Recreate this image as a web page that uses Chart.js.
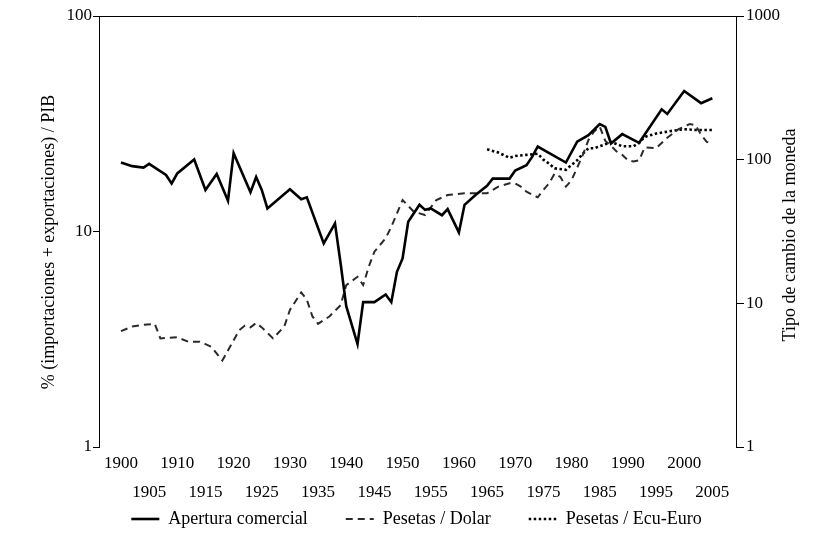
<!DOCTYPE html>
<html>
<head>
<meta charset="utf-8">
<script src="https://cdn.jsdelivr.net/npm/chart.js@4.4.1/dist/chart.umd.min.js"></script>
<style>
  html, body { margin: 0; padding: 0; background: #fff; }
</style>
</head>
<body>
<canvas id="chart" width="833" height="556"></canvas>
<script>
// Apertura comercial, % (importaciones + exportaciones) / PIB  (left axis)
const aperturaYears = [1900, 1902, 1904, 1905, 1908, 1909, 1910, 1913, 1915, 1917, 1919, 1920,
  1923, 1924, 1925, 1926, 1930, 1932, 1933, 1936, 1938, 1939, 1940, 1942, 1943, 1945, 1947,
  1948, 1949, 1950, 1951, 1953, 1954, 1955, 1957, 1958, 1960, 1961, 1963, 1965, 1966, 1969,
  1970, 1972, 1973, 1974, 1979, 1981, 1983, 1985, 1986, 1987, 1989, 1992, 1996, 1997, 2000,
  2003, 2005];
const aperturaValues = [20.9, 20.1, 19.8, 20.6, 18.3, 16.7, 18.6, 21.6, 15.6, 18.5, 13.9, 23.1,
  15.2, 17.9, 15.6, 12.8, 15.7, 14.1, 14.4, 8.8, 10.9, 7.1, 4.5, 3.0, 4.7, 4.7, 5.1,
  4.7, 6.5, 7.5, 11.1, 13.3, 12.6, 12.8, 11.9, 12.7, 9.9, 13.3, 14.8, 16.3, 17.6, 17.6,
  19.2, 20.3, 22.2, 24.8, 20.9, 26.1, 28.0, 31.5, 30.6, 25.6, 28.3, 25.8, 36.9, 35.1, 44.9,
  39.4, 41.5];

// Pesetas / Dolar (right axis)
const dolarYears = [1900, 1902, 1904, 1906, 1907, 1910, 1912, 1914, 1915, 1916, 1918, 1919,
  1921, 1922, 1923, 1924, 1925, 1927, 1929, 1930, 1932, 1933, 1934, 1935, 1937, 1939, 1940,
  1942, 1943, 1944, 1945, 1947, 1948, 1949, 1950, 1952, 1954, 1956, 1958, 1961, 1965, 1967,
  1969, 1970, 1971, 1972, 1974, 1975, 1976, 1977, 1978, 1979, 1980, 1981, 1982, 1983, 1984,
  1985, 1986, 1987, 1988, 1989, 1990, 1991, 1992, 1993, 1995, 1997, 1999, 2001, 2002, 2003,
  2004, 2005];
const dolarValues = [6.4, 6.9, 7.1, 7.2, 5.7, 5.8, 5.4, 5.4, 5.2, 5.0, 4.0, 4.7,
  6.5, 7.0, 6.8, 7.3, 6.8, 5.7, 6.9, 9.0, 11.9, 10.6, 8.1, 7.2, 8.1, 9.7, 13.4,
  15.3, 13.4, 18.0, 22.9, 28.4, 34.1, 42.3, 52.4, 43.4, 41.2, 52.4, 56.7, 58.3, 58.3, 64.9,
  68.4, 68.4, 64.9, 59.8, 54.7, 61.5, 68.4, 80, 76, 65, 72, 88, 108, 137, 157,
  170, 135, 125, 114, 108, 99, 97, 99, 122, 120, 142, 163, 177, 174, 149,
  133, 130];

// Pesetas / Ecu-Euro (right axis)
const ecuYears = [1965, 1967, 1969, 1970, 1972, 1974, 1975, 1976, 1977, 1979, 1980, 1981, 1982,
  1983, 1984, 1986, 1987, 1989, 1991, 1992, 1993, 1995, 1998, 2000, 2002, 2005];
const ecuValues = [118, 112, 103, 106, 108, 110, 100, 94, 87, 85, 92, 99, 110,
  120, 120, 128, 133, 124, 124, 131, 144, 152, 159, 163, 161, 161];

const yearTicks = [1900, 1905, 1910, 1915, 1920, 1925, 1930, 1935, 1940, 1945, 1950, 1955,
  1960, 1965, 1970, 1975, 1980, 1985, 1990, 1995, 2000, 2005];
const leftTicks = [1, 10, 100];
const rightTicks = [1, 10, 100, 1000];
const leftTitle = '% (importaciones + exportaciones) / PIB';
const rightTitle = 'Tipo de cambio de la moneda';

const serif = '"Liberation Serif", "DejaVu Serif", serif';

function toPoints(xs, ys) {
  return xs.map((x, i) => ({ x, y: ys[i] }));
}

// top frame line and the two rotated axis titles
const framePlugin = {
  id: 'frame',
  afterDraw(chart) {
    const { ctx, chartArea: a } = chart;
    ctx.save();
    ctx.strokeStyle = '#000';
    ctx.lineWidth = 1;
    ctx.beginPath();
    ctx.moveTo(a.left, a.top + 0.5);
    ctx.lineTo(a.right, a.top + 0.5);
    ctx.stroke();

    ctx.font = '18px ' + serif;
    ctx.fillStyle = '#000';
    ctx.textAlign = 'center';
    ctx.textBaseline = 'middle';
    [[leftTitle, a.left - 50, a.top + 226], [rightTitle, a.right + 54, a.top + 219]].forEach(([t, x, y]) => {
      ctx.save();
      ctx.translate(x, y);
      ctx.rotate(-Math.PI / 2);
      ctx.fillText(t, 0, 0);
      ctx.restore();
    });
    ctx.restore();
  }
};

new Chart(document.getElementById('chart').getContext('2d'), {
  type: 'line',
  data: {
    datasets: [
      {
        label: 'Apertura comercial',
        data: toPoints(aperturaYears, aperturaValues),
        yAxisID: 'y',
        borderColor: '#000',
        borderWidth: 2.6,
        pointRadius: 0,
        tension: 0,
        fill: false
      },
      {
        label: 'Pesetas / Dolar',
        data: toPoints(dolarYears, dolarValues),
        yAxisID: 'y1',
        borderColor: '#2a2a2a',
        borderWidth: 2,
        borderDash: [7, 5],
        pointRadius: 0,
        tension: 0,
        fill: false
      },
      {
        label: 'Pesetas / Ecu-Euro',
        data: toPoints(ecuYears, ecuValues),
        yAxisID: 'y1',
        borderColor: '#000',
        borderWidth: 2.6,
        borderDash: [2.5, 2.5],
        pointRadius: 0,
        tension: 0,
        fill: false
      }
    ]
  },
  options: {
    responsive: false,
    animation: false,
    layout: { padding: { top: 16, bottom: 18 } },
    plugins: {
      tooltip: { enabled: false },
      legend: {
        position: 'bottom',
        // empty title with negative padding pulls the items up close to the year labels
        title: { display: true, text: ' ', font: { size: 1, lineHeight: 1 }, padding: { top: -32, bottom: 0 } },
        labels: {
          usePointStyle: true,
          pointStyle: 'line',
          pointStyleWidth: 28,
          padding: 38,
          color: '#000',
          font: { family: serif, size: 18 },
          // keep each dataset's dash pattern and width in the legend sample
          generateLabels: chart => Chart.defaults.plugins.legend.labels.generateLabels(chart).map(item => {
            const ds = chart.data.datasets[item.datasetIndex];
            return Object.assign(item, {
              lineDash: ds.borderDash || [],
              lineWidth: ds.borderWidth,
              strokeStyle: ds.borderColor,
              fillStyle: ds.borderColor
            });
          })
        }
      }
    },
    scales: {
      x: {
        type: 'linear',
        min: 1896.1,
        max: 2009.2,
        afterBuildTicks: s => { s.ticks = yearTicks.map(v => ({ value: v })); },
        afterFit: s => { s.height = 56; },
        border: { display: false },
        grid: { display: false, drawTicks: false },
        ticks: {
          autoSkip: false,
          maxRotation: 0,
          padding: 2,
          color: '#000',
          font: { family: serif, size: 17, lineHeight: 29 / 17 },
          // two staggered rows: decades on top, half-decades below
          callback: v => (v % 10 === 0 ? [String(v), ''] : ['', String(v)])
        }
      },
      y: {
        type: 'logarithmic',
        position: 'left',
        min: 1,
        max: 100,
        afterBuildTicks: s => { s.ticks = leftTicks.map(v => ({ value: v })); },
        afterFit: s => { s.width = 99; },
        border: { display: true, color: '#000', width: 1 },
        grid: { drawOnChartArea: false, drawTicks: true, tickLength: 6, color: '#000' },
        ticks: { color: '#000', padding: 1, font: { family: serif, size: 17 }, callback: v => String(v) }
      },
      y1: {
        type: 'logarithmic',
        position: 'right',
        min: 1,
        max: 1000,
        afterBuildTicks: s => { s.ticks = rightTicks.map(v => ({ value: v })); },
        afterFit: s => { s.width = 97; },
        border: { display: true, color: '#000', width: 1 },
        grid: { drawOnChartArea: false, drawTicks: true, tickLength: 8, color: '#000' },
        ticks: { color: '#000', padding: 2, font: { family: serif, size: 17 }, callback: v => String(v) }
      }
    }
  },
  plugins: [framePlugin]
});
</script>
</body>
</html>
